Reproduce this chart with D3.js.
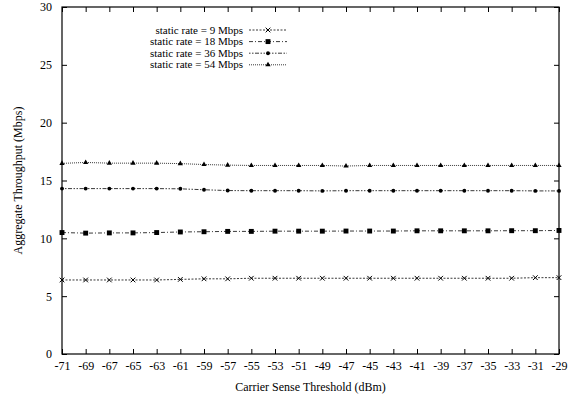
<!DOCTYPE html>
<html>
<head>
<meta charset="utf-8">
<script src="https://cdn.jsdelivr.net/npm/d3@7"></script>
<style>
  body { margin: 0; background: #fff; }
  svg text { font-family: "Liberation Serif", "Times New Roman", Times, "DejaVu Serif", serif; font-size: 12px; fill: #000; }
</style>
</head>
<body>
<div id="chart"></div>
<script>
// carrier sense threshold (dBm)
var thresholds = [-71, -69, -67, -65, -63, -61, -59, -57, -55, -53, -51, -49, -47, -45, -43, -41, -39, -37, -35, -33, -31, -29];
var yTicks = [0, 5, 10, 15, 20, 25, 30];

var rate9 = [6.4, 6.4, 6.4, 6.4, 6.4, 6.45, 6.5, 6.5, 6.55, 6.55, 6.55, 6.55, 6.55, 6.55, 6.55, 6.55, 6.55, 6.55, 6.55, 6.55, 6.6, 6.6];
var rate18 = [10.5, 10.45, 10.47, 10.47, 10.5, 10.55, 10.57, 10.6, 10.6, 10.62, 10.62, 10.62, 10.63, 10.63, 10.63, 10.65, 10.65, 10.65, 10.65, 10.66, 10.66, 10.68];
var rate36 = [14.3, 14.3, 14.3, 14.3, 14.3, 14.28, 14.2, 14.13, 14.12, 14.12, 14.12, 14.1, 14.12, 14.12, 14.12, 14.12, 14.12, 14.12, 14.12, 14.12, 14.1, 14.1];
var rate54 = [16.48, 16.56, 16.5, 16.5, 16.5, 16.46, 16.38, 16.33, 16.3, 16.3, 16.3, 16.3, 16.25, 16.3, 16.3, 16.3, 16.3, 16.3, 16.3, 16.3, 16.3, 16.3];

var seriesNames = ["static rate = 9 Mbps", "static rate = 18 Mbps", "static rate = 36 Mbps", "static rate = 54 Mbps"];
var seriesValues = [rate9, rate18, rate36, rate54];

var width = 571, height = 401;
var margin = {left: 62, right: 12, top: 7, bottom: 47};
var serif = '"Liberation Serif", "Times New Roman", Times, "DejaVu Serif", serif';

var svg = d3.select("#chart").append("svg")
    .attr("width", width)
    .attr("height", height);

var x = d3.scaleLinear().domain([-71, -29]).range([margin.left, width - margin.right]);
var y = d3.scaleLinear().domain([0, 30]).range([height - margin.bottom, margin.top]);

// dash style and marker for each series (gnuplot look)
var dashes = ["2,1.5", "4,2,1,2", "1.5,1.5,1.5,1.5,4,1.5", "1,1"];
var markers = [d3.symbolTimes, d3.symbolSquare, d3.symbolCircle, d3.symbolTriangle];
var markerSizes = [16, 24, 12, 12];

// plain hyphen minus like the original
var fmt = function(d) { return String(d); };

var bottomAxis = d3.axisBottom(x).tickValues(thresholds).tickSize(-5).tickPadding(7).tickFormat(fmt);
var topAxis = d3.axisTop(x).tickValues(thresholds).tickSize(-5).tickFormat("");
var leftAxis = d3.axisLeft(y).tickValues(yTicks).tickSize(-5).tickPadding(10).tickFormat(fmt);
var rightAxis = d3.axisRight(y).tickValues(yTicks).tickSize(-5).tickFormat("");

function styleAxis(g) {
    g.attr("font-family", null).attr("font-size", null);
    g.select(".domain").remove();
    g.selectAll("line").attr("stroke", "#000");
    g.selectAll("text").style("font-size", "12px").style("font-family", serif);
}

svg.append("g").attr("transform", "translate(0," + y(0) + ")").call(bottomAxis).call(styleAxis);
svg.append("g").attr("transform", "translate(0," + y(30) + ")").call(topAxis).call(styleAxis);
svg.append("g").attr("transform", "translate(" + x(-71) + ",0)").call(leftAxis).call(styleAxis);
svg.append("g").attr("transform", "translate(" + x(-29) + ",0)").call(rightAxis).call(styleAxis);

// frame
svg.append("rect")
    .attr("x", x(-71)).attr("y", y(30))
    .attr("width", x(-29) - x(-71)).attr("height", y(0) - y(30))
    .attr("fill", "none").attr("stroke", "#000").attr("stroke-width", 1.2);

// axis labels
svg.append("text")
    .attr("x", (x(-71) + x(-29)) / 2).attr("y", 391)
    .attr("text-anchor", "middle")
    .style("font-family", serif)
    .text("Carrier Sense Threshold (dBm)");

svg.append("text")
    .attr("transform", "translate(22," + ((y(0) + y(30)) / 2) + ") rotate(-90)")
    .attr("text-anchor", "middle")
    .style("font-family", serif)
    .text("Aggregate Throughput (Mbps)");

var line = d3.line()
    .x(function(d, i) { return x(thresholds[i]); })
    .y(function(d) { return y(d); });

seriesValues.forEach(function(vals, s) {
    svg.append("path")
        .datum(vals)
        .attr("d", line)
        .attr("fill", "none")
        .attr("stroke", "#222")
        .attr("stroke-width", 0.9)
        .attr("stroke-dasharray", dashes[s]);

    svg.selectAll(".m" + s)
        .data(vals)
        .join("path")
        .attr("class", "m" + s)
        .attr("transform", function(d, i) { return "translate(" + x(thresholds[i]) + "," + y(d) + ")"; })
        .attr("d", d3.symbol().type(markers[s]).size(markerSizes[s]))
        .attr("fill", s == 0 ? "none" : "#000")
        .attr("stroke", s == 0 ? "#000" : "none")
        .attr("stroke-width", 1);
});

// legend
var legend = svg.append("g");
seriesNames.forEach(function(name, s) {
    var ly = 30 + s * 11.6;
    legend.append("text")
        .attr("x", 243).attr("y", ly + 3.5)
        .attr("text-anchor", "end")
        .style("font-family", serif)
        .style("font-size", "11px")
        .text(name);
    legend.append("line")
        .attr("x1", 249).attr("x2", 287)
        .attr("y1", ly).attr("y2", ly)
        .attr("stroke", "#222").attr("stroke-width", 0.9)
        .attr("stroke-dasharray", dashes[s]);
    legend.append("path")
        .attr("transform", "translate(268," + ly + ")")
        .attr("d", d3.symbol().type(markers[s]).size(markerSizes[s]))
        .attr("fill", s == 0 ? "none" : "#000")
        .attr("stroke", s == 0 ? "#000" : "none");
});
</script>
</body>
</html>
